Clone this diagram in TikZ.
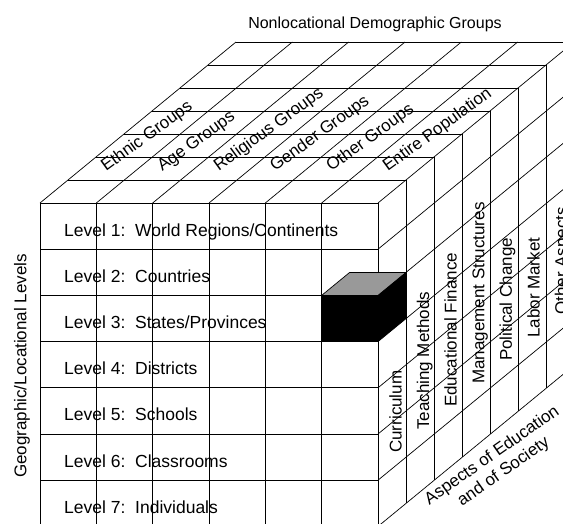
\documentclass[tikz,border=0pt]{standalone}
\usepackage{fontspec}
\setmainfont{Liberation Sans}
\usetikzlibrary{positioning}

\begin{document}
\begin{tikzpicture}[x=1pt, y=-1pt,
    gridline/.style={line width=0.7pt},
    lbl/.style={font=\fontsize{17}{20}\selectfont, inner sep=0pt}]
  \useasboundingbox (0,0) rectangle (563,523);
  \clip (0,0) rectangle (563,523);
  \def\cw{56.33} \def\rh{46.2}

  % front face
  \foreach \j in {0,...,7} \draw[gridline] (40,{203+\j*\rh}) -- ++(338,0);
  \foreach \i in {0,...,6} \draw[gridline] ({40+\i*\cw},203) -- ++(0,323.4);
  % top face
  \foreach \k in {1,...,7} \draw[gridline] ({40+28*\k},{203-23*\k}) -- ++(338,0);
  \foreach \i in {0,...,6} \draw[gridline] ({40+\i*\cw},203) -- ++(196,-161);
  % right face
  \foreach \k in {1,...,7} \draw[gridline] ({378+28*\k},{203-23*\k}) -- ++(0,323.4);
  \foreach \j in {1,...,7} \draw[gridline] (378,{203+\j*\rh}) -- ++(196,-161);

  % the marked cell
  \filldraw[gridline, fill=black!40] (321.65,295.4) -- (378,295.4) -- ++(28,-23) -- ++(-56.33,0) -- cycle;
  \fill (321.65,295.4) rectangle (378,341.6);
  \fill (378,295.4) -- ++(28,-23) -- ++(0,46.2) -- (378,341.6) -- cycle;

  \node[lbl, font=\fontsize{16}{19}\selectfont] (title) at (375,24) {Nonlocational Demographic Groups};
  \node[lbl, rotate=90] (geo) at (22,366) {Geographic/Locational Levels};

  \foreach \t [count=\j] in {World Regions/Continents, Countries, States/Provinces,
      Districts, Schools, Classrooms, Individuals}
    \node[lbl, font=\fontsize{17.5}{20}\selectfont, anchor=base west] (lev\j)
      at (64,{203+(\j-0.5)*\rh+10}) {Level \j:\ \ \t};

  \foreach \t [count=\i] in {Ethnic Groups, Age Groups, Religious Groups,
      Gender Groups, Other Groups, Entire Population}
    \node[lbl, rotate=36, anchor=base west] (grp\i) at ({40+(\i-0.5)*\cw+37.8},172) {\t};

  \foreach \t [count=\k from 0] in {Curriculum, Teaching Methods, Educational Finance,
      Management Structures, Political Change, Labor Market, Other Aspects}
    \node[lbl, rotate=90, anchor=base west] (asp\k) at ({401.5+27.6*\k},{453-23*\k}) {\t};

  \node[lbl, rotate=35, align=center] (aspects) at (498,464) {Aspects of Education\\and of Society};
\end{tikzpicture}
\end{document}
